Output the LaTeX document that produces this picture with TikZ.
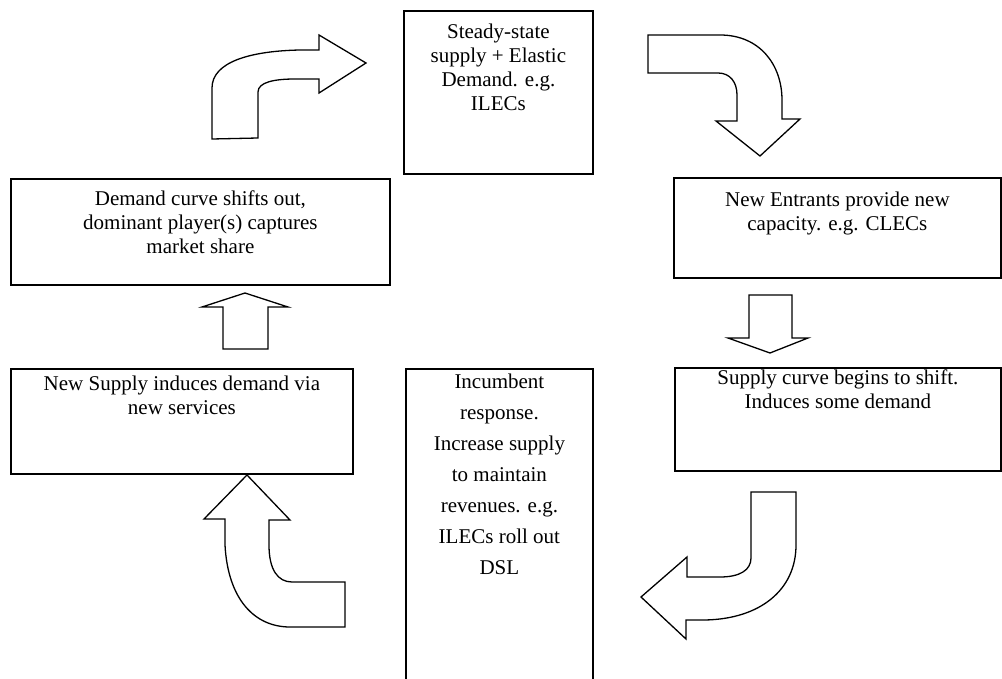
\documentclass[tikz,border=0pt]{standalone}
\usepackage{fontspec}
\setmainfont{Liberation Serif}
\begin{document}
\begin{tikzpicture}[x=1pt,y=-1pt,
  box/.style={draw=black,line width=1.8pt,rectangle,inner sep=0pt,anchor=north west},
  txt/.style={align=center,inner sep=0pt,anchor=north,font=\fontsize{21}{24}\selectfont},
  txtwide/.style={align=center,inner sep=0pt,anchor=north,font=\fontsize{21}{31}\selectfont},
  blockarrow/.style={draw=black,line width=1.3pt,fill=white,line join=miter}]
\useasboundingbox (0,0) rectangle (1002,679);
% boxes
\node[box,minimum width=189pt,minimum height=163pt] (b1) at (403,10) {};
\node[box,minimum width=327pt,minimum height=100pt] (b2) at (673,177) {};
\node[box,minimum width=326pt,minimum height=103pt] (b3) at (674,367) {};
\node[box,minimum width=187pt,minimum height=330pt] (b4) at (405,368) {};
\node[box,minimum width=379pt,minimum height=106pt] (b5) at (10,178) {};
\node[box,minimum width=342pt,minimum height=105pt] (b6) at (10,368) {};
% texts
\node[txt] (t1) at ([yshift=-14pt]b1.north) {Steady-state\\supply + Elastic\\Demand. e.g.\\ILECs};
\node[txt] (t2) at ([yshift=-15pt]b2.north) {New Entrants provide new\\capacity. e.g. CLECs};
\node[txt] (t3) at ([yshift=-3pt]b3.north) {Supply curve begins to shift.\\Induces some demand};
\node[txtwide] (t4) at ([yshift=-6pt]b4.north) {Incumbent\\response.\\Increase supply\\to maintain\\revenues. e.g.\\ILECs roll out\\DSL};
\node[txt] (t5) at ([yshift=-13pt]b5.north) {Demand curve shifts out,\\dominant player(s) captures\\market share};
\node[txt] (t6) at ([yshift=-8pt]b6.north) {New Supply induces demand via\\new services};
% block arrows
% A: top-left, up then right
\draw[blockarrow] (212,139) -- (212,88) .. controls (212,62) and (250,51) .. (300,50) -- (319,50) -- (319,35) -- (366,63) -- (319,93) -- (319,79) -- (295,79) .. controls (275,79) and (258,82) .. (258,92) -- (258,138) -- cycle;
% B: top-right, right then down
\draw[blockarrow] (648,35) -- (720,35) .. controls (760,35) and (782,65) .. (782,100) -- (782,119) -- (800,119) -- (760,156) -- (716,121) -- (737,121) -- (737,95) .. controls (737,82) and (730,73) .. (718,73) -- (648,73) -- cycle;
% F: straight down
\draw[blockarrow] (749,295) -- (792,295) -- (792,338) -- (808,338) -- (770,353) -- (728,338) -- (749,338) -- cycle;
% C: bottom-right, down then left
\draw[blockarrow] (751,492) -- (796,492) -- (796,545) .. controls (796,590) and (760,619) .. (705,620) -- (686,620) -- (686,639) -- (641,597) -- (687,557) -- (687,577) -- (720,577) .. controls (740,577) and (751,570) .. (751,558) -- cycle;
% D: bottom-left, left then up
\draw[blockarrow] (345,627) -- (290,627) .. controls (255,627) and (228,600) .. (225,545) -- (225,519) -- (204,519) -- (247,475) -- (290,520) -- (269,520) -- (269,545) .. controls (269,570) and (278,582) .. (292,582) -- (345,582) -- cycle;
% E: straight up
\draw[blockarrow] (245,293) -- (288,307) -- (268,307) -- (268,349) -- (223,349) -- (223,307) -- (202,307) -- cycle;
\end{tikzpicture}
\end{document}
